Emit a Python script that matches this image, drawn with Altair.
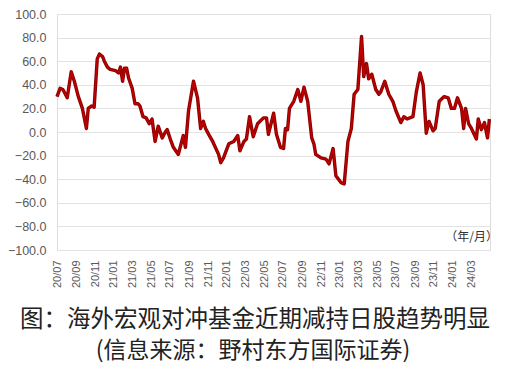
import altair as alt
import pandas as pd

# ---- data ----
dates = [
    "2020-07-01", "2020-07-11", "2020-07-20", "2020-08-03", "2020-08-16", "2020-08-26",
    "2020-09-08", "2020-09-21", "2020-10-04", "2020-10-10", "2020-10-20", "2020-10-29",
    "2020-11-08", "2020-11-15", "2020-11-25", "2020-12-01", "2020-12-11", "2020-12-20",
    "2021-01-06", "2021-01-16", "2021-01-22", "2021-01-29", "2021-02-04", "2021-02-11",
    "2021-02-17", "2021-03-01", "2021-03-10", "2021-03-20", "2021-03-26", "2021-04-05",
    "2021-04-15", "2021-04-25", "2021-05-04", "2021-05-14", "2021-05-24", "2021-06-06",
    "2021-06-16", "2021-06-22", "2021-07-02", "2021-07-12", "2021-07-28", "2021-08-13",
    "2021-08-20", "2021-08-30", "2021-09-15", "2021-09-28", "2021-10-08", "2021-10-17",
    "2021-10-24", "2021-11-03", "2021-11-16", "2021-12-05", "2021-12-12", "2021-12-21",
    "2022-01-07", "2022-01-23", "2022-02-05", "2022-02-12", "2022-02-25", "2022-03-05",
    "2022-03-15", "2022-03-27", "2022-04-10", "2022-04-29", "2022-05-09", "2022-05-15",
    "2022-06-01", "2022-06-10", "2022-06-23", "2022-07-03", "2022-07-09", "2022-07-16",
    "2022-07-22", "2022-08-05", "2022-08-18", "2022-08-28", "2022-09-07", "2022-09-19",
    "2022-10-02", "2022-10-09", "2022-10-15", "2022-11-01", "2022-11-17", "2022-11-27",
    "2022-12-10", "2022-12-19", "2023-01-05", "2023-01-15", "2023-01-27", "2023-02-07",
    "2023-02-16", "2023-02-28", "2023-03-12", "2023-03-19", "2023-03-28", "2023-04-04",
    "2023-04-14", "2023-04-27", "2023-05-07", "2023-05-13", "2023-05-26", "2023-06-08",
    "2023-06-21", "2023-07-01", "2023-07-17", "2023-07-27", "2023-08-06", "2023-08-25",
    "2023-09-05", "2023-09-17", "2023-09-27", "2023-10-07", "2023-10-16", "2023-10-29",
    "2023-11-05", "2023-11-18", "2023-12-04", "2023-12-17", "2023-12-27", "2024-01-06",
    "2024-01-16", "2024-01-29", "2024-02-05", "2024-02-11", "2024-02-21", "2024-03-01",
    "2024-03-17", "2024-03-23", "2024-04-02", "2024-04-12", "2024-04-22", "2024-04-28",
]
values = [
    30, 37, 36, 29, 51, 43,
    30, 20, 3, 20, 22, 21,
    62, 66, 64, 60, 55, 53,
    52, 50, 55, 43, 54, 54,
    46, 37, 24, 24, 22, 13,
    12, 7, 11, -8, 5, -5,
    0, 2, -6, -13, -19, -3,
    -13, 18, 43, 29, 3, 9,
    3, -2, -8, -19, -26, -22,
    -10, -8, -3, -16, -8, -6,
    13, -4, 7, 12, 12, -2,
    16, -2, -13, -14, 3, 2,
    20, 26, 36, 26, 38, 26,
    -5, -10, -19, -22, -23, -27,
    -14, -37, -43, -44, -8, 3,
    32, 36, 81, 47, 58, 45,
    49, 36, 32, 34, 43, 32,
    26, 18, 8, 13, 11, 13,
    34, 50, 40, -1, 9, 1,
    3, 26, 30, 29, 20, 20,
    29, 20, 3, 20, 7, 3,
    -6, 11, 2, 8, -5, 11,
]
y_ticks = [-100, -80, -60, -40, -20, 0, 20, 40, 60, 80, 100]
title_line1 = "图：海外宏观对冲基金近期减持日股趋势明显"
title_line2 = "(信息来源：野村东方国际证券)"
unit_label = "（年/月）"

df = pd.DataFrame({"date": [d + "T00:00:00" for d in dates], "value": values})

W, H = 433, 236

x_axis = alt.Axis(
    format="%y/%m", tickCount={"interval": "month", "step": 2},
    labelAngle=-90, labelFontSize=11, labelColor="#595959",
    labelFont="Liberation Sans", labelPadding=10,
    domain=False, ticks=False, grid=False, title=None,
    labelOverlap=False,
)
y_axis = alt.Axis(
    values=y_ticks, format=".1f", labelFontSize=12.5, labelColor="#595959",
    labelFont="Liberation Sans", labelPadding=11, labelOverlap=False,
    labelBound=False, labelFlush=False,
    domain=False, ticks=False, gridColor="#e3e3e3", gridWidth=1, title=None,
)
x_scale = alt.Scale(domain=[alt.DateTime(year=2020, month=7, date=1),
                            alt.DateTime(year=2024, month=4, date=30)])
y_scale = alt.Scale(domain=[-100, 100], nice=False)

base = alt.Chart(df)
outer = base.mark_line(color="#8b0000", strokeWidth=3.4, strokeJoin="round").encode(
    x=alt.X("date:T", scale=x_scale, axis=x_axis),
    y=alt.Y("value:Q", scale=y_scale, axis=y_axis),
)
inner = base.mark_line(color="#c20000", strokeWidth=1.4, strokeJoin="round").encode(
    x=alt.X("date:T", scale=x_scale, axis=x_axis),
    y=alt.Y("value:Q", scale=y_scale, axis=y_axis),
)

t1 = alt.Chart(pd.DataFrame({"t": [title_line1]})).mark_text(
    font="Noto Sans CJK SC", fontSize=23.5, color="#222222", align="center", baseline="middle"
).encode(text="t:N", x=alt.value(198), y=alt.value(306))
t2 = alt.Chart(pd.DataFrame({"t": [title_line2]})).mark_text(
    font="Noto Sans CJK SC", fontSize=23, color="#222222", align="center", baseline="middle"
).encode(text="t:N", x=alt.value(196), y=alt.value(337))
t3 = alt.Chart(pd.DataFrame({"t": [unit_label]})).mark_text(
    font="Noto Sans CJK SC", fontSize=12, color="#333333", align="right", baseline="middle"
).encode(text="t:N", x=alt.value(441), y=alt.value(223))

chart = alt.layer(outer, inner, t1, t2, t3).properties(
    width=W, height=H,
    autosize=alt.AutoSizeParams(type="none"),
    padding={"left": 49, "top": 6, "right": 7, "bottom": 116},
).configure_view(stroke=None).configure_axisY(labelOverlap=False).configure(background="white")

chart.save("out.html", embed_options={"renderer": "svg", "actions": False})
